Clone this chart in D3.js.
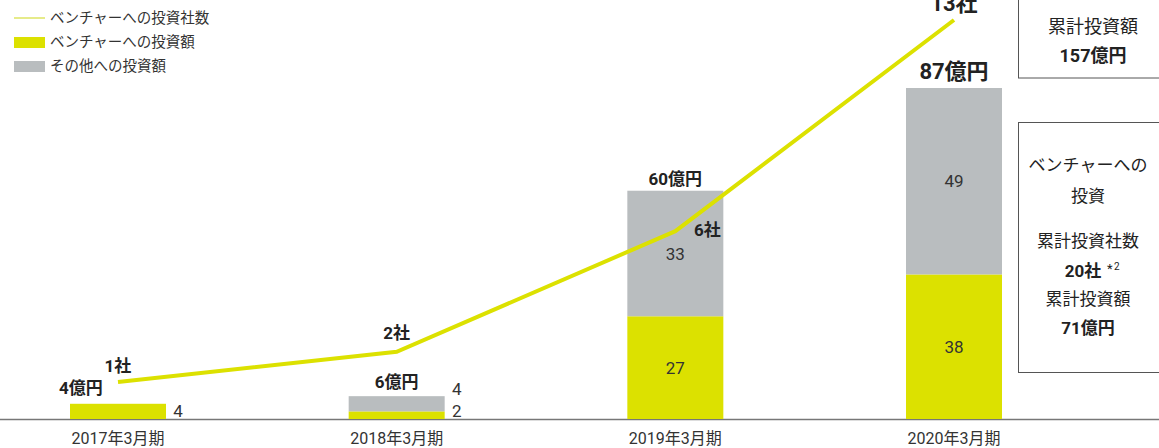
<!DOCTYPE html>
<html>
<head>
<meta charset="utf-8">
<script src="https://cdn.jsdelivr.net/npm/d3@7"></script>
<style>
  body { margin: 0; background: #fff; }
  svg { display: block; font-family: Roboto, "Noto Sans CJK JP", sans-serif; }
</style>
</head>
<body>
<svg id="chart" width="1159" height="448"></svg>
<script>
// data
var years = ['2017年3月期', '2018年3月期', '2019年3月期', '2020年3月期'];
var venture = [4, 2, 27, 38];
var other = [0, 4, 33, 49];
var totals = [4, 6, 60, 87];
var companies = [1, 2, 6, 13];

var yellow = '#dce100';
var grey = '#b9bdbf';
var ink = '#222';

var svg = d3.select('#chart');
var baseY = 419;

var x = d3.scalePoint().domain(years).range([118, 954]);
var y = d3.scaleLinear().domain([0, 87]).range([baseY, 88]);
var yc = d3.scaleLinear().domain([1, 13]).range([382, 20]);
var barW = 96;

// baseline
svg.append('line').attr('x1', 0).attr('x2', 1159).attr('y1', baseY + 0.5).attr('y2', baseY + 0.5)
    .attr('stroke', '#777').attr('stroke-width', 1.5);

// stacked bars
var g = svg.append('g');
years.forEach(function (yr, i) {
    var cx = x(yr);
    g.append('rect').attr('x', cx - barW / 2).attr('width', barW)
        .attr('y', y(venture[i])).attr('height', baseY - y(venture[i])).attr('fill', yellow);
    if (other[i] > 0) {
        g.append('rect').attr('x', cx - barW / 2).attr('width', barW)
            .attr('y', y(venture[i] + other[i])).attr('height', y(venture[i]) - y(venture[i] + other[i])).attr('fill', grey);
    }
});

// value labels (inside or beside bars)
function valText(tx, ty, t) {
    svg.append('text').attr('x', tx).attr('y', ty).attr('text-anchor', 'middle')
        .attr('font-size', 17).attr('fill', '#333').text(t);
}
valText(x(years[0]) + 60, 417, venture[0]);
valText(x(years[1]) + 60, 417, venture[1]);
valText(x(years[1]) + 60, 395, other[1]);
for (var i = 2; i < 4; i++) {
    valText(x(years[i]), (y(venture[i]) + baseY) / 2 + 6, venture[i]);
    valText(x(years[i]), (y(venture[i]) + y(totals[i])) / 2 + 6, other[i]);
}

// company count line
var line = d3.line().x(function (d, i) { return x(years[i]); }).y(function (d) { return yc(d); });
svg.append('path').datum(companies).attr('d', line).attr('fill', 'none')
    .attr('stroke', yellow).attr('stroke-width', 4);

// bold labels
function boldText(tx, ty, t, size) {
    svg.append('text').attr('x', tx).attr('y', ty).attr('text-anchor', 'middle')
        .attr('font-size', size || 17).attr('font-weight', 'bold').attr('fill', ink).text(t);
}
boldText(x(years[0]) - 37, 394, totals[0] + '億円');
boldText(x(years[1]), 388, totals[1] + '億円');
boldText(x(years[2]), 185, totals[2] + '億円');
boldText(x(years[3]), 79, totals[3] + '億円', 22);
boldText(x(years[0]), yc(companies[0]) - 10, companies[0] + '社');
boldText(x(years[1]), yc(companies[1]) - 13, companies[1] + '社');
boldText(x(years[2]) + 32, yc(companies[2]) + 5, companies[2] + '社');
boldText(x(years[3]), yc(companies[3]) - 9, companies[3] + '社', 22);

// x axis labels
svg.append('g').selectAll('text').data(years).join('text')
    .attr('x', function (d) { return x(d); }).attr('y', 444).attr('text-anchor', 'middle')
    .attr('font-size', 16).attr('fill', '#333').text(function (d) { return d; });

// legend
var legend = svg.append('g').attr('font-size', 14.5).attr('fill', '#333');
legend.append('line').attr('x1', 14).attr('x2', 45).attr('y1', 18).attr('y2', 18)
    .attr('stroke', '#e6eb8a').attr('stroke-width', 2);
legend.append('rect').attr('x', 14).attr('y', 37).attr('width', 31).attr('height', 11).attr('fill', yellow);
legend.append('rect').attr('x', 14).attr('y', 61).attr('width', 31).attr('height', 11).attr('fill', grey);
var legendLabels = ['ベンチャーへの投資社数', 'ベンチャーへの投資額', 'その他への投資額'];
legend.selectAll('text').data(legendLabels).join('text')
    .attr('x', 50).attr('y', function (d, i) { return 23 + i * 24; }).text(function (d) { return d; });

// summary boxes
svg.append('rect').attr('x', 1018.5).attr('y', -5).attr('width', 160).attr('height', 83)
    .attr('fill', 'none').attr('stroke', '#555').attr('stroke-width', 1);
svg.append('text').attr('x', 1093).attr('y', 33).attr('text-anchor', 'middle').attr('font-size', 18)
    .attr('fill', ink).text('累計投資額');
boldText(1093, 62, '157億円', 18);

svg.append('rect').attr('x', 1018.5).attr('y', 122.5).attr('width', 160).attr('height', 250)
    .attr('fill', 'none').attr('stroke', '#555').attr('stroke-width', 1);
var boxLines = [['ベンチャーへの', 171], ['投資', 202], ['累計投資社数', 247], ['累計投資額', 305]];
boxLines.forEach(function (d) {
    svg.append('text').attr('x', 1088).attr('y', d[1]).attr('text-anchor', 'middle').attr('font-size', 17)
        .attr('fill', ink).text(d[0]);
});
boldText(1083, 277, '20社', 17);
svg.append('text').attr('x', 1107).attr('y', 273).attr('font-size', 13).attr('fill', ink).text('*');
svg.append('text').attr('x', 1114).attr('y', 270).attr('font-size', 10).attr('fill', ink).text('2');
boldText(1088, 334, '71億円', 17);
</script>
</body>
</html>
